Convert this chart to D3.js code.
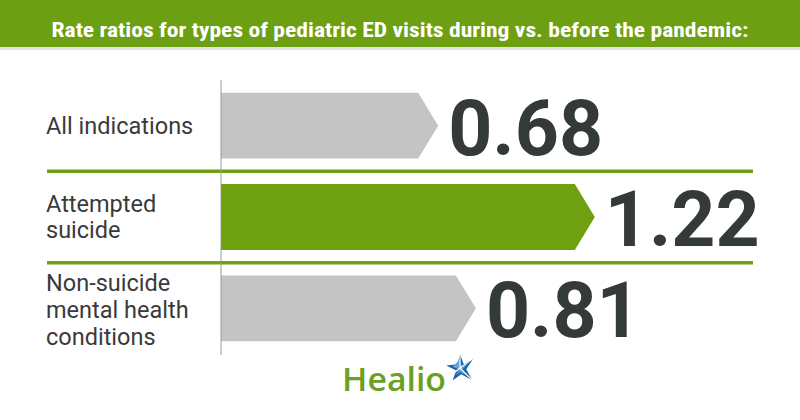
<!DOCTYPE html>
<html>
<head>
<meta charset="utf-8">
<script src="https://cdn.jsdelivr.net/npm/d3@7"></script>
<style>
  html, body { margin: 0; padding: 0; background: #ffffff; }
  svg { display: block; }
</style>
</head>
<body>
<svg id="chart" width="800" height="420"></svg>
<script>
// ---- data ----
const title = "Rate ratios for types of pediatric ED visits during vs. before the pandemic:";
const categories = ["All indications", "Attempted suicide", "Non-suicide mental health conditions"];
const categoryLines = [["All indications"], ["Attempted", "suicide"], ["Non-suicide", "mental health", "conditions"]];
const values = [0.68, 1.22, 0.81];
const valueLabels = ["0.68", "1.22", "0.81"];
const brand = "Healio";

// ---- styles ----
const GREEN = "#6ea00f";
const GREY = "#c4c4c4";
const DARK = "#343a3a";

const svg = d3.select("#chart");
svg.append("rect").attr("width", 800).attr("height", 420).attr("fill", "#fff");

// header
svg.append("rect").attr("x", 0).attr("y", 0).attr("width", 800).attr("height", 47).attr("fill", "#6c9f12");
svg.append("rect").attr("x", 0).attr("y", 47).attr("width", 800).attr("height", 3).attr("fill", "#e3e3e3");
svg.append("text")
  .attr("x", 400).attr("y", 37)
  .attr("text-anchor", "middle")
  .attr("font-family", "'Roboto Condensed','Liberation Sans Narrow',Roboto,sans-serif")
  .attr("font-weight", 700)
  .attr("font-size", 20)
  .attr("fill", "#fff")
  .attr("textLength", 697)
  .attr("lengthAdjust", "spacingAndGlyphs")
  .text(title);

// scales
const x = d3.scaleLinear().domain([0, 1]).range([221, 511]);
const y = d3.scaleBand().domain(categories).range([80, 354]).paddingInner(0.28).paddingOuter(0.14);
const tip = 20;

// separators
const step = y.step();
for (let i = 1; i < categories.length; i++) {
  const yy = y(categories[i]) - (y.paddingInner() * step) / 2;
  svg.append("line")
    .attr("x1", 47).attr("x2", 753)
    .attr("y1", yy).attr("y2", yy)
    .attr("stroke", GREEN).attr("stroke-width", 3.5);
}

// bars
const rows = categories.map((c, i) => ({ c, v: values[i], label: valueLabels[i], lines: categoryLines[i] }));

svg.selectAll("path.bar").data(rows).enter().append("path")
  .attr("class", "bar")
  .attr("fill", d => d.v > 1 ? GREEN : GREY)
  .attr("d", d => {
    const y0 = y(d.c), y1 = y0 + y.bandwidth(), ym = y0 + y.bandwidth() / 2;
    const x0 = x(0), xe = x(d.v);
    return `M${x0},${y0}L${xe},${y0}L${xe + tip},${ym}L${xe},${y1}L${x0},${y1}Z`;
  });

// axis line
svg.append("line")
  .attr("x1", x(0)).attr("x2", x(0))
  .attr("y1", 80).attr("y2", 355)
  .attr("stroke", "#9a9a9a").attr("stroke-width", 1);

// value labels
svg.selectAll("text.val").data(rows).enter().append("text")
  .attr("class", "val")
  .attr("x", d => x(d.v) + tip + 10)
  .attr("y", d => y(d.c) + y.bandwidth() / 2 + 29)
  .attr("font-family", "Roboto, sans-serif")
  .attr("font-weight", 700)
  .attr("font-size", 77)
  .attr("fill", DARK)
  .text(d => d.label);

// category labels
rows.forEach(d => {
  const cy = y(d.c) + y.bandwidth() / 2;
  const n = d.lines.length;
  const t = svg.append("text")
    .attr("font-family", "Roboto, sans-serif")
    .attr("font-size", 23.5)
    .attr("fill", "#3a3a3a");
  d.lines.forEach((ln, i) => {
    t.append("tspan")
      .attr("x", 46)
      .attr("y", cy + 8 + (n > 2 ? 1.5 : 0) + (i - (n - 1) / 2) * 26.8)
      .text(ln);
  });
});

// logo
svg.append("text")
  .attr("x", 342).attr("y", 391)
  .attr("font-family", "'Open Sans', Lato, sans-serif")
  .attr("font-weight", 600)
  .attr("font-size", 33)
  .attr("fill", "#6aa123")
  .attr("textLength", 104)
  .attr("lengthAdjust", "spacingAndGlyphs")
  .text(brand);

const star = svg.append("g").attr("transform", "translate(460,368) scale(1.25)");
star.append("path")
  .attr("d", "M0,-11 L3,-3 L11,-8 L5,1 L10,10 L1,5 L-6,10 L-3,2 L-11,-2 L-2,-3 Z")
  .attr("fill", "#1f62a8");
star.append("path")
  .attr("d", "M0,-7 L1.5,-1 L7,-4 L2,1 L5,6 L0,3 L-3,6 L-1,1 L-6,-1 Z")
  .attr("fill", "#5fa3d8");
star.append("path")
  .attr("d", "M-11,9 L0,0 M0,0 L11,-8 M0,0 L0,-11 M0,0 L10,10")
  .attr("stroke", "#fff").attr("stroke-width", 0.9);
</script>
</body>
</html>
